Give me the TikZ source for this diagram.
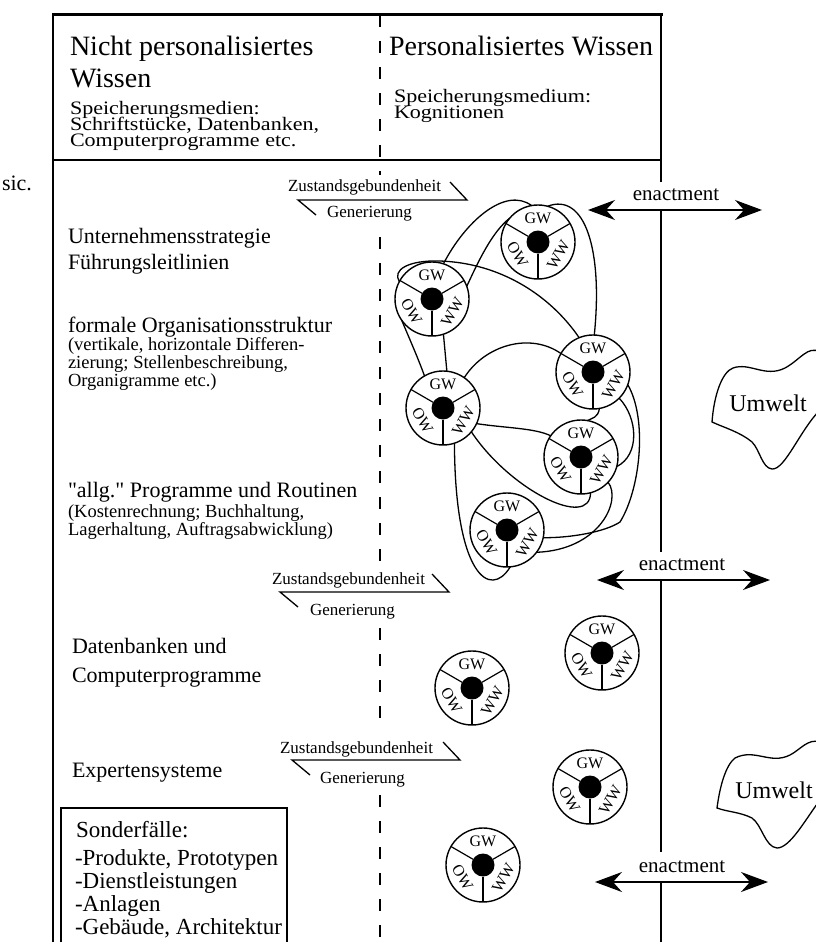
\documentclass[tikz,border=0pt]{standalone}
\usepackage{fontspec}
\setmainfont{Liberation Serif}[Ligatures=TeXOff]
\usepackage{graphicx}
\usetikzlibrary{arrows.meta}
\newcommand\hstr[1]{\scalebox{1.16}[1]{#1}}
\begin{document}
\begin{tikzpicture}[x=1pt,y=-1pt,
  every node/.style={inner sep=0pt, outer sep=0pt},
  frame/.style={line width=1.4pt},
  thickframe/.style={line width=3pt, line cap=rect},
  divider/.style={line width=1.1pt, dash pattern=on 12pt off 14pt},
  kreis/.style={circle, draw, fill=white, line width=1.4pt, minimum size=74pt},
  spoke/.style={line width=1.2pt},
  kl/.style={font=\fontsize{16}{16}\selectfont},
  conn/.style={line width=1.3pt},
  head/.style={font=\fontsize{28}{30}\selectfont, anchor=base west},
  sub/.style={font=\fontsize{19}{19}\selectfont, anchor=base west},
  body/.style={font=\fontsize{22}{24}\selectfont, anchor=base west},
  small/.style={font=\fontsize{18.5}{19}\selectfont, anchor=base west},
  sf/.style={font=\fontsize{23}{24}\selectfont, anchor=base west},
  zg/.style={font=\fontsize{17}{17}\selectfont, anchor=base west},
  zgline/.style={line width=1.3pt},
  enact/.style={font=\fontsize{21}{21}\selectfont},
  enarrow/.style={line width=1.3pt, {Stealth[length=27pt,width=20pt,inset=9pt]}-{Stealth[length=27pt,width=20pt,inset=9pt]}},
  umw/.style={line width=1.3pt},
  umwtext/.style={font=\fontsize{24}{24}\selectfont},
]
\useasboundingbox (0,0) rectangle (815,942);

% ---------- frame ----------
\draw[thickframe] (53,15) -- (661,15);
\draw[frame] (53,14) -- (53,942);
\draw[frame] (53,160) -- (661,160);
\draw[frame] (661,14) -- (661,182);
\draw[frame] (661,210) -- (661,552);
\draw[frame] (661,580) -- (661,852);
\draw[frame] (661,882) -- (661,942);
\draw[divider] (380,15) -- (380,175);
\draw[divider] (380,237) -- (380,565);
\draw[divider] (380,628) -- (380,730);
\draw[divider] (380,795) -- (380,942);
\draw[frame] (61,942) -- (61,808) -- (287,808) -- (287,942);

% ---------- header ----------
\node[head] (h1) at (70,56) {Nicht personalisiertes};
\node[head] (h2) at (70,87) {Wissen};
\node[sub] (h3) at (70,114) {\hstr{Speicherungsmedien:}};
\node[sub] (h4) at (70,130) {\hstr{Schriftstücke, Datenbanken,}};
\node[sub] (h5) at (70,146) {\hstr{Computerprogramme etc.}};
\node[head] (h6) at (389,56) {Personalisiertes Wissen};
\node[sub] (h7) at (394,102) {\hstr{Speicherungsmedium:}};
\node[sub] (h8) at (394,118) {\hstr{Kognitionen}};
\node[font=\fontsize{22}{22}\selectfont, anchor=base west] (sic) at (2,190) {sic.};

% ---------- left column ----------
\node[body] (t1) at (68,243) {Unternehmensstrategie};
\node[body] (t2) at (68,269) {Führungsleitlinien};
\node[body] (t3) at (68,332) {formale Organisationsstruktur};
\node[small] (t4) at (68,350) {(vertikale, horizontale Differen-};
\node[small] (t5) at (68,368) {zierung; Stellenbeschreibung,};
\node[small] (t6) at (68,386) {Organigramme etc.)};
\node[body] (t7) at (68,497) {"allg." Programme und Routinen};
\node[small] (t8) at (68,517) {(Kostenrechnung; Buchhaltung,};
\node[small] (t9) at (68,535) {Lagerhaltung, Auftragsabwicklung)};
\node[body] (t10) at (72,653) {Datenbanken und};
\node[body] (t11) at (72,682) {Computerprogramme};
\node[body] (t12) at (72,777) {Expertensysteme};
\node[sf] (s1) at (76,837) {Sonderfälle:};
\node[sf] (s2) at (75,865) {-Produkte, Prototypen};
\node[sf] (s3) at (75,888) {-Dienstleistungen};
\node[sf] (s4) at (75,911) {-Anlagen};
\node[sf] (s5) at (75,934) {-Gebäude, Architektur};

% ---------- Zustandsgebundenheit / Generierung ----------
\foreach \k/\lx/\rx/\ly/\zx/\zy/\gx/\gy in {1/298/467/200/288/191/327/217, 2/280/449/592/272/584/310/615, 3/292/460/760/280/753/320/783}{
  \node[zg] (zust\k) at (\zx,\zy) {Zustandsgebundenheit};
  \node[zg] (gen\k) at (\gx,\gy) {Generierung};
  \coordinate (zl\k) at (\lx,\ly);
  \coordinate (zr\k) at (\rx,\ly);
  \coordinate (zlb\k) at (\lx+18,\ly+15);
  \coordinate (zrb\k) at (\rx-17,\ly-18);
  \draw[zgline] (zlb\k) -- (zl\k) -- (zr\k) -- (zrb\k);
}

% ---------- enactment ----------
\foreach \k/\tx/\ty/\al/\ar/\ay in {1/676/195/588/762/210, 2/682/565/597/770/580, 3/682/867/595/768/882}{
  \node[enact] (en\k) at (\tx,\ty) {enactment};
  \coordinate (enl\k) at (\al,\ay);
  \coordinate (enr\k) at (\ar,\ay);
  \draw[enarrow] (enl\k) -- (enr\k);
}

% ---------- Umwelt ----------
\draw[umw] (712,422) .. controls (714,395) and (722,372) .. (733,368)
  .. controls (750,362) and (765,378) .. (785,368)
  .. controls (800,360) and (808,345) .. (820,352) -- (820,410)
  .. controls (800,430) and (785,470) .. (772,469)
  .. controls (762,468) and (760,450) .. (752,442)
  .. controls (740,432) and (725,428) .. cycle;
\node[umwtext] (u1) at (768,403) {Umwelt};
\draw[umw] (717,808) .. controls (720,785) and (726,765) .. (735,758)
  .. controls (755,748) and (770,765) .. (790,755)
  .. controls (800,750) and (808,738) .. (820,742) -- (820,800)
  .. controls (805,820) and (790,848) .. (777,848)
  .. controls (765,847) and (762,825) .. (752,818)
  .. controls (740,812) and (728,812) .. cycle;
\node[umwtext] (u2) at (774,790) {Umwelt};

% ---------- knowledge circles ----------
\foreach \nm/\x/\y in {c1/538/242,c2/432/299,c3/593/372,c4/443/408,c5/581/457,c6/507/530,c7/602/653,c8/472/688,c9/590/787,c10/483/865}{
  \node[kreis] (\nm) at (\x,\y) {};
  \fill (\x,\y) circle[radius=11.5pt];
  \draw[spoke] (\x+10,\y-5.75) -- (\x+32,\y-18.5);
  \draw[spoke] (\x-10,\y-5.75) -- (\x-32,\y-18.5);
  \draw[spoke] (\x,\y+11.5) -- (\x,\y+37);
  \node[kl] (\nm-gw) at (\x,\y-23.5) {GW};
  \node[kl,rotate=-60] (\nm-ow) at (\x-20.5,\y+12.5) {OW};
  \node[kl,rotate=60] (\nm-ww) at (\x+20.5,\y+12.5) {WW};
}

% ---------- connectors ----------
\draw[conn] (c2.72) .. controls (465,222) and (505,186) .. (c1.100);
\draw[conn] (c2.20) .. controls (478,262) and (492,232) .. (c1.140);
\draw[conn] (c1.75) .. controls (585,192) and (603,250) .. (c3.88);
\draw[conn] (c2.152) .. controls (392,270) and (408,260) .. (440,261)
  .. controls (500,263) and (550,295) .. (c3.112);
\draw[conn] (c2.215) .. controls (410,340) and (418,358) .. (c4.120);
\draw[conn] (c2.288) -- (c4.84);
\draw[conn] (c4.55) .. controls (485,345) and (530,332) .. (c3.150);
\draw[conn] (c4.-25) .. controls (505,428) and (535,428) .. (c5.145);
\draw[conn] (c3.-80) .. controls (598,418) and (592,418) .. (c5.80);
\draw[conn] (c3.-45) .. controls (638,418) and (640,455) .. (c5.-15);
\draw[conn] (c3.-20) .. controls (648,420) and (640,490) .. (620,522)
  .. controls (605,532) and (570,538) .. (c6.-12);
\draw[conn] (c5.-43) .. controls (622,500) and (600,550) .. (c6.-37);
\draw[conn] (c4.-40) .. controls (510,490) and (590,530) .. (c5.-75);
\draw[conn] (c4.-72) .. controls (455,575) and (490,600) .. (c6.-85);
\end{tikzpicture}
\end{document}
